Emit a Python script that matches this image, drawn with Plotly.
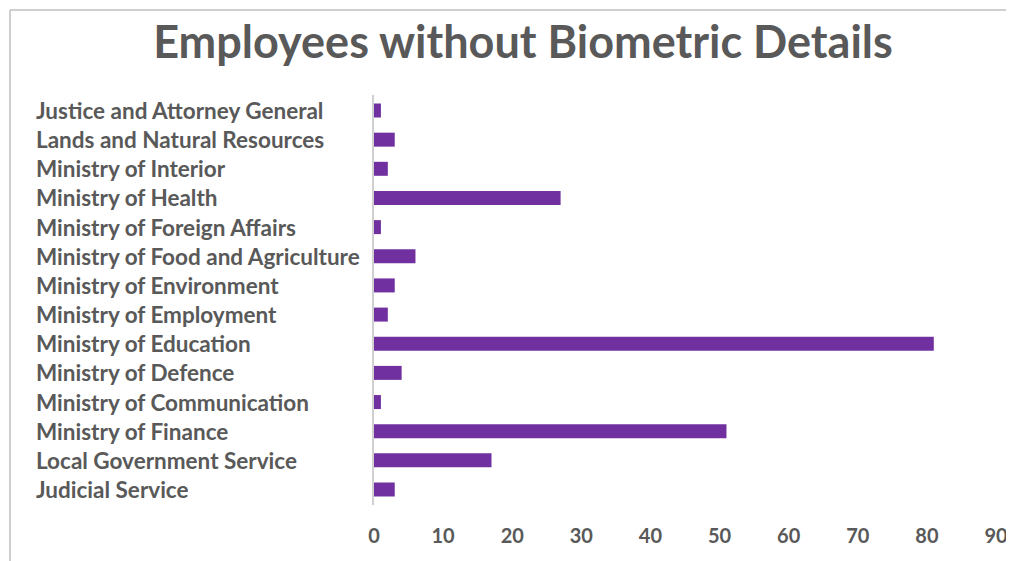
import plotly.graph_objects as go

categories = [
    "Judicial Service",
    "Local Government Service",
    "Ministry of Finance",
    "Ministry of Communication",
    "Ministry of Defence",
    "Ministry of Education",
    "Ministry of Employment",
    "Ministry of Environment",
    "Ministry of Food and Agriculture",
    "Ministry of Foreign Affairs",
    "Ministry of Health",
    "Ministry of Interior",
    "Lands and Natural Resources",
    "Justice and Attorney General",
]
values = [3, 17, 51, 1, 4, 81, 2, 3, 6, 1, 27, 2, 3, 1]
x_ticks = [0, 10, 20, 30, 40, 50, 60, 70, 80, 90]

# page has an 8px body margin, so the figure is sized/positioned to compensate
OFF = 8
W, H = 1014 - OFF, 561 - OFF
L = 374 - OFF
R = W - (996 - OFF)
T = 95 - OFF
B = H - (505 - OFF)
pw = W - L - R
ph = H - T - B

TXT = "#595959"
FONT = "Lato"

fig = go.Figure()
fig.add_trace(go.Bar(
    x=values, y=categories, orientation="h",
    marker=dict(color="#7030A0", line=dict(width=0)),
    width=0.48, hoverinfo="x+y",
))

annotations = []
for c in categories:
    annotations.append(dict(
        x=(34 - OFF - L) / pw, xref="paper", y=c, yref="y",
        text="<b>" + c + "</b>", showarrow=False, xanchor="left", yanchor="middle",
        font=dict(family=FONT, size=22.5, color=TXT),
    ))

fx = (10 - OFF - L) / pw
fy = (H - B - (10 - OFF)) / ph

fig.update_layout(
    width=W, height=H,
    margin=dict(l=L, r=R, t=T, b=B, autoexpand=False),
    paper_bgcolor="white", plot_bgcolor="white",
    showlegend=False,
    title=dict(
        text="<b>Employees without Biometric Details</b>",
        x=(523 - OFF) / W, xanchor="center", y=1 - (42 - OFF) / H, yanchor="middle",
        font=dict(family=FONT, size=45, color=TXT),
    ),
    xaxis=dict(
        range=[0, 90], tickvals=x_ticks, ticktext=["<b>%d</b>" % v for v in x_ticks],
        showgrid=False, zeroline=False, showline=False, ticks="",
        tickfont=dict(family=FONT, size=20, color=TXT), ticklabelstandoff=17,
        fixedrange=True, automargin=False,
    ),
    yaxis=dict(
        categoryorder="array", categoryarray=categories,
        showticklabels=False, showgrid=False, zeroline=False,
        showline=True, linecolor="#D0D0D0", linewidth=1.5, ticks="",
        automargin=False,
    ),
    annotations=annotations,
    shapes=[
        dict(type="line", xref="paper", yref="paper",
             x0=fx, x1=fx, y0=fy, y1=-(B + 10) / ph,
             line=dict(color="#BFBFBF", width=1.5)),
        dict(type="line", xref="paper", yref="paper",
             x0=fx, x1=(W - L + 10) / pw, y0=fy, y1=fy,
             line=dict(color="#BFBFBF", width=1.5)),
    ],
)

fig.write_html("out.html")
